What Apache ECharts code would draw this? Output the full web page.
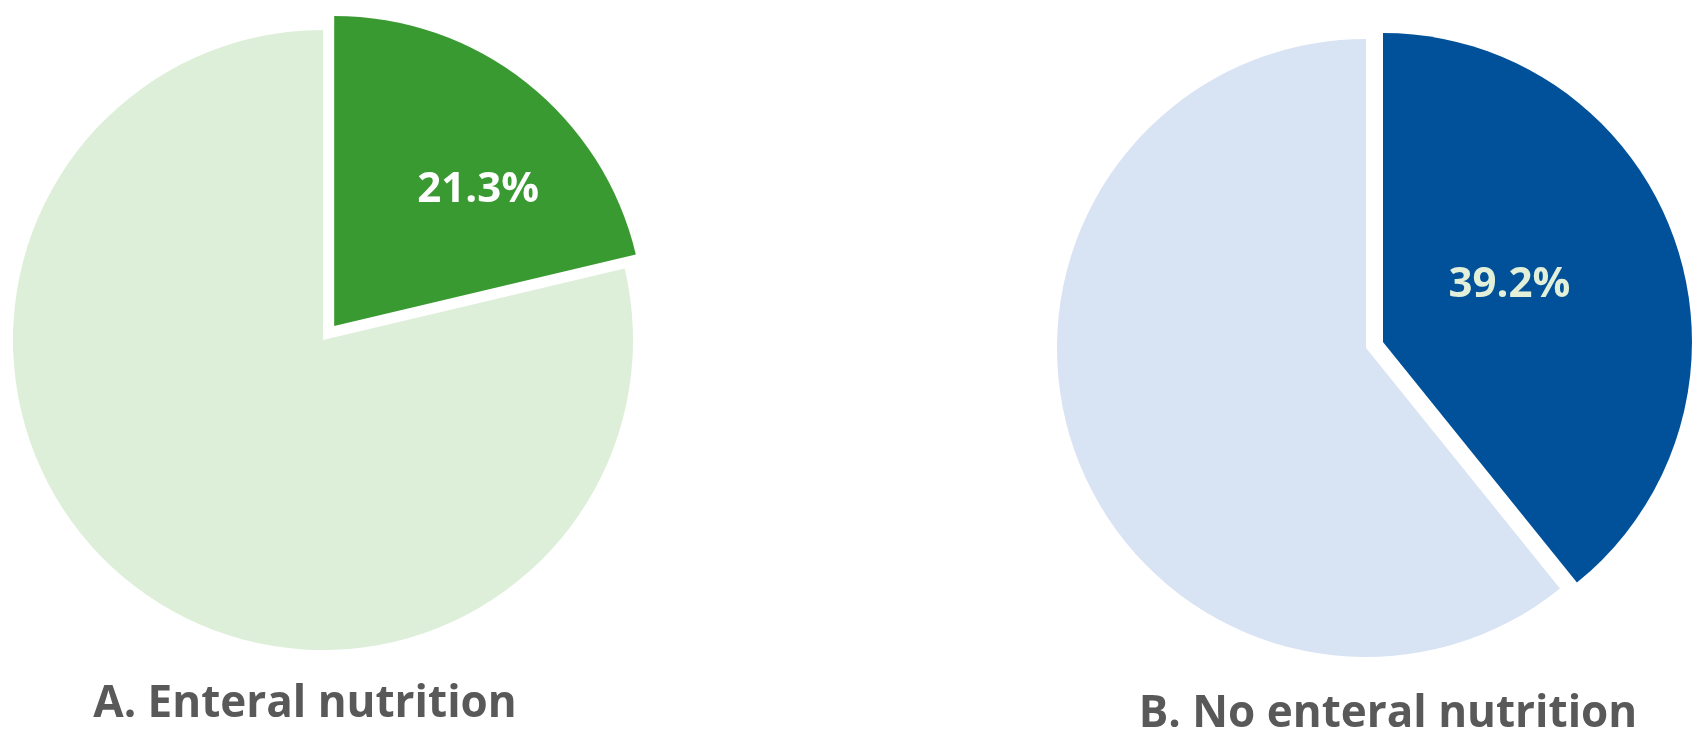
<!DOCTYPE html>
<html>
<head>
<meta charset="utf-8">
<script src="https://cdn.jsdelivr.net/npm/echarts@6/dist/echarts.min.js"></script>
<style>
html,body{margin:0;padding:0;background:#fff;}
#c{width:1702px;height:742px;}
</style>
</head>
<body>
<div id="c"></div>
<script>
const sliceNames = ['Event', 'No event'];
const valuesA = [21.3, 78.7];
const valuesB = [39.2, 60.8];
const panelTitles = ['A. Enteral nutrition', 'B. No enteral nutrition'];

const chart = echarts.init(document.getElementById('c'), null, {renderer: 'canvas'});

function makePie(values, center, radius, colors, labelColor, dx, dy) {
  return {
    type: 'pie',
    center: center,
    radius: radius,
    startAngle: 90,
    clockwise: true,
    selectedMode: 'multiple',
    selectedOffset: 18,
    avoidLabelOverlap: false,
    silent: true,
    labelLine: {show: false},
    labelLayout: function (p) { return p.dataIndex === 0 ? {dx: dx, dy: dy} : {}; },
    data: values.map(function (v, i) {
      return {
        name: sliceNames[i],
        value: v,
        selected: i === 0,
        itemStyle: {color: colors[i], borderWidth: 0},
        label: {
          show: i === 0,
          position: 'inside',
          formatter: v.toFixed(1) + '%',
          color: labelColor,
          fontFamily: 'Open Sans',
          fontWeight: 'bold',
          fontSize: 42
        }
      };
    })
  };
}

chart.setOption({
  animation: false,
  backgroundColor: '#ffffff',
  series: [
    makePie(valuesA, [323, 340], 310, ['#3a9a32', '#ddefd9'], '#ffffff', 46, -12),
    makePie(valuesB, [1366, 348], 309, ['#00519a', '#d8e3f4'], '#e2f0d9', -22, -5)
  ],
  graphic: [
    {type: 'text', x: 305, y: 704, style: {text: panelTitles[0], fill: '#595959', font: 'bold 44px "Open Sans"', textAlign: 'center', textVerticalAlign: 'middle'}},
    {type: 'text', x: 1388, y: 714, style: {text: panelTitles[1], fill: '#595959', font: 'bold 44px "Open Sans"', textAlign: 'center', textVerticalAlign: 'middle'}}
  ]
});
</script>
</body>
</html>
